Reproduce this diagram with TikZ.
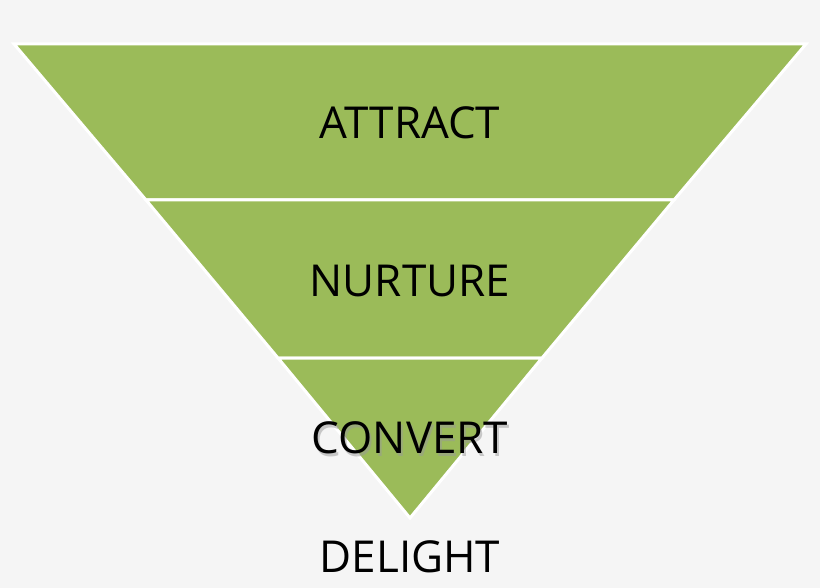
\documentclass[tikz,border=0pt]{standalone}
\usepackage{fontspec}
\setmainfont{Open Sans}
\begin{document}
\begin{tikzpicture}[x=1pt,y=-1pt,
  band/.style={fill=funnel,draw=white,line width=3pt,line join=miter},
  lbl/.style={font=\fontsize{44}{48}\selectfont,text=black,inner sep=0pt}]
\definecolor{funnel}{HTML}{9BBB59}
\definecolor{bg}{HTML}{F5F5F5}
\fill[bg] (0,0) rectangle (820,588);
\useasboundingbox (0,0) rectangle (820,588);
\coordinate (tl) at (14,44); \coordinate (tr) at (806,44);
\coordinate (l1) at (146,200); \coordinate (r1) at (674,200);
\coordinate (l2) at (278,358); \coordinate (r2) at (542,358);
\coordinate (ap) at (410,518);
\draw[band] (tl) -- (tr) -- (r1) -- (l1) -- cycle;
\draw[band] (l1) -- (r1) -- (r2) -- (l2) -- cycle;
\draw[band] (l2) -- (r2) -- (ap) -- cycle;
\node[lbl] (a) at (410,123) {ATTRACT};
\node[lbl] (n) at (410,281) {NURTURE};
\node[lbl,text=black!40,opacity=0.5] (cs) at (412,441) {CONVERT};
\node[lbl] (c) at (410,438) {CONVERT};
\node[lbl] (d) at (410,557) {DELIGHT};
\end{tikzpicture}
\end{document}
